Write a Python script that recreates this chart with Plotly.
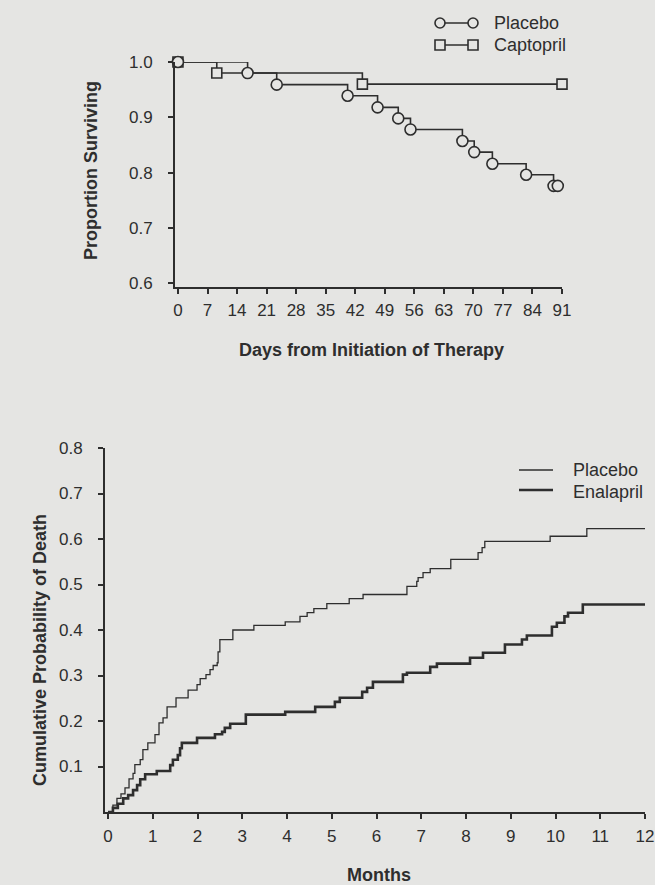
import plotly.graph_objects as go

# ---------------- data ----------------
# Top panel: Kaplan-Meier survival (days)
placebo_days = [0, 16.5, 23.4, 40.2, 47.3, 52.2, 55.1, 67.4, 70.2, 74.5, 82.5, 89.0, 90.0]
placebo_surv = [1.0, 0.980, 0.959, 0.939, 0.918, 0.898, 0.878, 0.857, 0.837, 0.816, 0.796, 0.776, 0.776]
placebo_marker_days = [0, 16.5, 23.4, 40.2, 47.3, 52.2, 55.1, 67.4, 70.2, 74.5, 82.5, 89.0, 90.0]
placebo_marker_surv = [1.0, 0.980, 0.959, 0.939, 0.918, 0.898, 0.878, 0.857, 0.837, 0.816, 0.796, 0.776, 0.776]

captopril_days = [0, 9.2, 43.7, 91.0]
captopril_surv = [1.0, 0.980, 0.960, 0.960]

days_ticks = [0, 7, 14, 21, 28, 35, 42, 49, 56, 63, 70, 77, 84, 91]
surv_ticks = [0.6, 0.7, 0.8, 0.9, 1.0]

# Bottom panel: cumulative probability of death (months)
placebo2_months = [0, 0.11, 0.20, 0.29, 0.38, 0.47, 0.56, 0.60, 0.72, 0.78, 0.89, 1.05, 1.14, 1.23,
                   1.32, 1.52, 1.79, 1.99, 2.06, 2.19, 2.28, 2.35, 2.44, 2.46, 2.50, 2.79, 3.26,
                   3.96, 4.29, 4.45, 4.60, 4.89, 5.39, 5.70, 6.68, 6.90, 6.93, 7.04, 7.20, 7.66,
                   8.27, 8.36, 8.42, 9.88, 10.70, 12.0]
placebo2_prob = [0, 0.015, 0.030, 0.040, 0.053, 0.073, 0.085, 0.104, 0.115, 0.137, 0.152, 0.170,
                 0.196, 0.207, 0.231, 0.251, 0.268, 0.280, 0.293, 0.302, 0.313, 0.322, 0.328, 0.352,
                 0.379, 0.400, 0.410, 0.418, 0.430, 0.438, 0.447, 0.458, 0.469, 0.478, 0.496, 0.507,
                 0.515, 0.526, 0.535, 0.555, 0.570, 0.581, 0.595, 0.606, 0.623, 0.623]

enalapril_months = [0, 0.11, 0.22, 0.34, 0.45, 0.56, 0.65, 0.72, 0.83, 1.09, 1.39, 1.45, 1.56, 1.61,
                    1.65, 1.99, 2.39, 2.55, 2.61, 2.73, 3.08, 3.96, 4.63, 5.07, 5.18, 5.68, 5.79,
                    5.92, 6.59, 6.68, 7.20, 7.35, 8.09, 8.38, 8.87, 9.25, 9.36, 9.92, 10.03, 10.20,
                    10.28, 10.61, 12.0]
enalapril_prob = [0, 0.009, 0.018, 0.030, 0.037, 0.048, 0.059, 0.072, 0.083, 0.090, 0.103, 0.115,
                  0.125, 0.140, 0.152, 0.163, 0.171, 0.176, 0.185, 0.194, 0.214, 0.220, 0.231, 0.242,
                  0.251, 0.264, 0.273, 0.286, 0.302, 0.306, 0.319, 0.326, 0.339, 0.350, 0.368, 0.379,
                  0.388, 0.407, 0.416, 0.430, 0.438, 0.456, 0.456]

month_ticks = list(range(0, 13))
prob_ticks = [0.1, 0.2, 0.3, 0.4, 0.5, 0.6, 0.7, 0.8]

# ---------------- style ----------------
W, H = 655, 885
BG = "#e5e5e3"
INK = "#2e2e2e"
FONT = "Liberation Sans, Arial, Helvetica, sans-serif"


def px(x):
    return x / W


def py(y):
    return 1 - y / H


fig = go.Figure()

# top panel lines
fig.add_trace(go.Scatter(x=placebo_days, y=placebo_surv, mode="lines", line_shape="hv",
                         line=dict(color=INK, width=1.6), xaxis="x", yaxis="y",
                         showlegend=False, cliponaxis=False))
fig.add_trace(go.Scatter(x=captopril_days, y=captopril_surv, mode="lines", line_shape="hv",
                         line=dict(color=INK, width=1.6), xaxis="x", yaxis="y",
                         showlegend=False, cliponaxis=False))
fig.add_trace(go.Scatter(x=captopril_days, y=captopril_surv, mode="markers",
                         marker=dict(symbol="square", size=10, color=BG,
                                     line=dict(color=INK, width=1.6)),
                         xaxis="x", yaxis="y", showlegend=False, cliponaxis=False))
fig.add_trace(go.Scatter(x=placebo_marker_days, y=placebo_marker_surv, mode="markers",
                         marker=dict(symbol="circle", size=11, color=BG,
                                     line=dict(color=INK, width=1.6)),
                         xaxis="x", yaxis="y", showlegend=False, cliponaxis=False))

# bottom panel lines
fig.add_trace(go.Scatter(x=placebo2_months, y=placebo2_prob, mode="lines", line_shape="hv",
                         line=dict(color=INK, width=1.3), xaxis="x2", yaxis="y2",
                         showlegend=False))
fig.add_trace(go.Scatter(x=enalapril_months, y=enalapril_prob, mode="lines", line_shape="hv",
                         line=dict(color=INK, width=2.6), xaxis="x2", yaxis="y2",
                         showlegend=False))

tickfont = dict(family=FONT, size=17, color=INK)
axis_common = dict(showgrid=False, zeroline=False, showline=True, linecolor=INK, linewidth=1.8,
                   ticks="outside", ticklen=5, tickwidth=1.5, tickcolor=INK, tickfont=tickfont,
                   fixedrange=True, automargin=False)

fig.update_layout(
    width=W, height=H,
    margin=dict(l=0, r=0, t=0, b=0, autoexpand=False),
    paper_bgcolor=BG, plot_bgcolor=BG,
    xaxis=dict(domain=[px(175), px(562)], range=[-0.7, 91], tickvals=days_ticks,
               anchor="y", ticklabelstandoff=2, **axis_common),
    yaxis=dict(domain=[py(287), py(62)], range=[0.593, 1.0], tickvals=surv_ticks,
               ticktext=["0.6", "0.7", "0.8", "0.9", "1.0"],
               anchor="x", ticklabelstandoff=12, **axis_common),
    xaxis2=dict(domain=[px(105), px(645)], range=[-0.067, 12], tickvals=month_ticks,
                anchor="y2", ticklabelstandoff=3, **axis_common),
    yaxis2=dict(domain=[py(812), py(448)], range=[0, 0.8], tickvals=prob_ticks,
                anchor="x2", ticklabelstandoff=12, **axis_common),
)

titlefont = dict(family=FONT, size=18, color=INK, weight="bold")
legfont = dict(family=FONT, size=18, color=INK)

annotations = [
    dict(text="<b>Proportion Surviving</b>", x=px(91), y=py(171), textangle=-90,
         font=titlefont),
    dict(text="<b>Days from Initiation of Therapy</b>", x=px(371), y=py(350),
         font=titlefont),
    dict(text="<b>Cumulative Probability of Death</b>", x=px(40), y=py(650), textangle=-90,
         font=titlefont),
    dict(text="<b>Months</b>", x=px(379), y=py(875), font=titlefont),
    dict(text="Placebo", x=px(492), y=py(23), xanchor="left", font=legfont),
    dict(text="Captopril", x=px(492), y=py(45), xanchor="left", font=legfont),
    dict(text="Placebo", x=px(571), y=py(470), xanchor="left", font=legfont),
    dict(text="Enalapril", x=px(571), y=py(492), xanchor="left", font=legfont),
]
for a in annotations:
    a.update(xref="paper", yref="paper", showarrow=False, yanchor="middle",
             xanchor=a.get("xanchor", "center"))
fig.update_layout(annotations=annotations)

shapes = []
# top legend: circle-line-circle
shapes.append(dict(type="line", x0=px(440), x1=px(473), y0=py(23), y1=py(23),
                   line=dict(color=INK, width=1.6)))
for cx in (440, 473):
    shapes.append(dict(type="circle", x0=px(cx - 5), x1=px(cx + 5), y0=py(28), y1=py(18),
                       fillcolor=BG, line=dict(color=INK, width=1.6)))
# square-line-square
shapes.append(dict(type="line", x0=px(440), x1=px(473), y0=py(45), y1=py(45),
                   line=dict(color=INK, width=1.6)))
for cx in (440, 473):
    shapes.append(dict(type="rect", x0=px(cx - 5), x1=px(cx + 5), y0=py(50), y1=py(40),
                       fillcolor=BG, line=dict(color=INK, width=1.6)))
# bottom legend lines
shapes.append(dict(type="line", x0=px(519), x1=px(553), y0=py(470), y1=py(470),
                   line=dict(color=INK, width=1.3)))
shapes.append(dict(type="line", x0=px(519), x1=px(553), y0=py(490), y1=py(490),
                   line=dict(color=INK, width=2.6)))
for s in shapes:
    s.update(xref="paper", yref="paper")
fig.update_layout(shapes=shapes)

fig.write_html("out.html")
